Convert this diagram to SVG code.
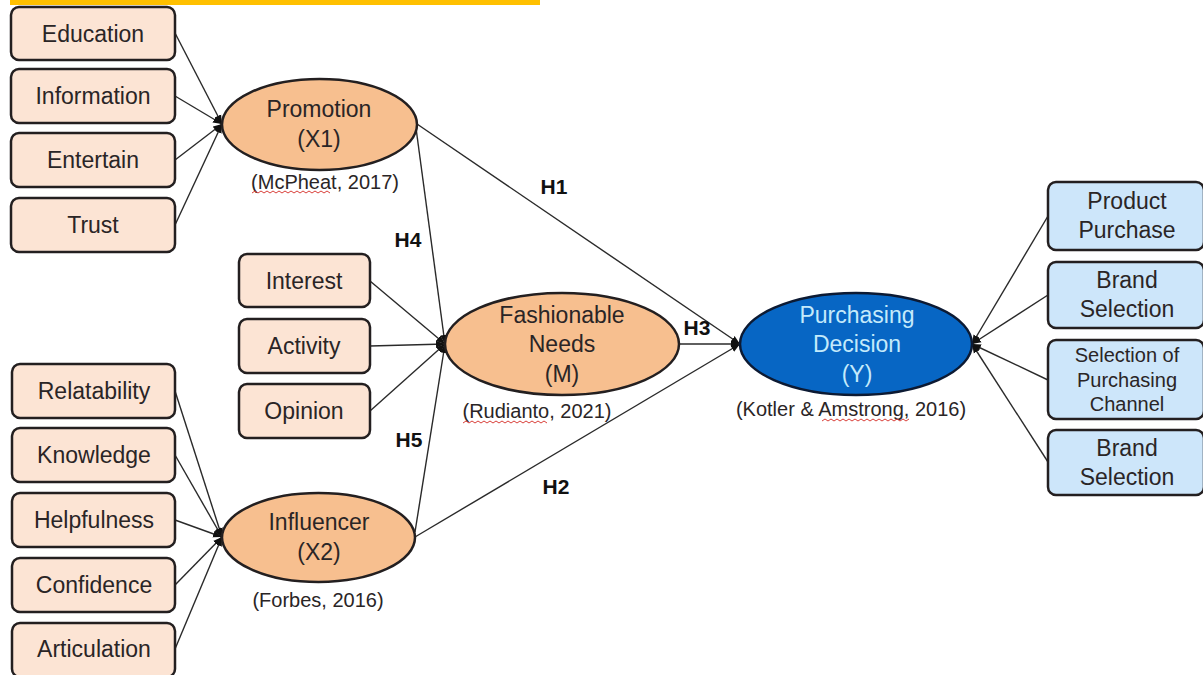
<svg xmlns="http://www.w3.org/2000/svg" width="1203" height="675" viewBox="0 0 1203 675">
<defs>
<marker id="ah" viewBox="0 0 10 10" refX="10" refY="5" markerWidth="9" markerHeight="9" markerUnits="userSpaceOnUse" orient="auto">
<path d="M0,1 L10,5 L0,9 Z" fill="#111"/>
</marker>
<style>
.box{fill:#FCE4D4;stroke:#231f20;stroke-width:2.5}
.bbox{fill:#CDE6FA;stroke:#231f20;stroke-width:2.5}
.ell{fill:#F7BF8F;stroke:#231f20;stroke-width:2.5}
.bell{fill:#0766C4;stroke:#0c1a33;stroke-width:2.5}
.t{font-family:"Liberation Sans",Arial,sans-serif;font-size:23px;fill:#2a2526;text-anchor:middle}
.ts{font-family:"Liberation Sans",Arial,sans-serif;font-size:20px;fill:#2a2526;text-anchor:middle}
.tw{font-family:"Liberation Sans",Arial,sans-serif;font-size:23px;fill:#C4EAFB;text-anchor:middle}
.h{font-family:"Liberation Sans",Arial,sans-serif;font-size:21px;font-weight:bold;fill:#111;text-anchor:middle}
.c{fill:none;stroke:#2a2a2a;stroke-width:1.4;marker-end:url(#ah)}
.sq{fill:none;stroke:#d9403a;stroke-width:1}
</style>
</defs>
<rect x="10" y="0" width="530" height="5" fill="#FFC000"/>
<g id="connectors">
<line class="c" x1="175" y1="33" x2="222" y2="124"/>
<line class="c" x1="175" y1="96" x2="222" y2="124"/>
<line class="c" x1="175" y1="160" x2="222" y2="124"/>
<line class="c" x1="175" y1="225" x2="222" y2="124"/>
<line class="c" x1="370" y1="281" x2="445" y2="344"/>
<line class="c" x1="370" y1="346" x2="445" y2="344"/>
<line class="c" x1="370" y1="411" x2="445" y2="344"/>
<line class="c" x1="175" y1="391" x2="222" y2="537"/>
<line class="c" x1="175" y1="455" x2="222" y2="537"/>
<line class="c" x1="175" y1="520" x2="222" y2="537"/>
<line class="c" x1="175" y1="585" x2="222" y2="537"/>
<line class="c" x1="175" y1="649" x2="222" y2="537"/>
<line class="c" x1="1048" y1="216" x2="972" y2="344"/>
<line class="c" x1="1048" y1="295" x2="972" y2="344"/>
<line class="c" x1="1048" y1="380" x2="972" y2="344"/>
<line class="c" x1="1048" y1="462" x2="972" y2="344"/>
<line class="c" x1="417" y1="124" x2="740" y2="344"/>
<line class="c" x1="416" y1="128" x2="445" y2="344"/>
<line class="c" x1="415" y1="532" x2="445" y2="344"/>
<line class="c" x1="415" y1="537" x2="740" y2="344"/>
<line class="c" x1="679" y1="344" x2="740" y2="344"/>
<text class="h" x="554" y="194">H1</text>
<text class="h" x="408" y="247">H4</text>
<text class="h" x="697" y="335">H3</text>
<text class="h" x="409" y="447">H5</text>
<text class="h" x="556" y="494">H2</text>
</g>
<g id="education"><rect class="box" x="11" y="7" width="164" height="53" rx="8"/><text class="t" x="93" y="42">Education</text></g>
<g id="information"><rect class="box" x="11" y="69" width="164" height="54" rx="8"/><text class="t" x="93" y="104">Information</text></g>
<g id="entertain"><rect class="box" x="11" y="133" width="164" height="54" rx="8"/><text class="t" x="93" y="168">Entertain</text></g>
<g id="trust"><rect class="box" x="11" y="198" width="164" height="54" rx="8"/><text class="t" x="93" y="233">Trust</text></g>
<g id="promotion"><ellipse class="ell" cx="319.5" cy="124.5" rx="97.5" ry="45.5"/><text class="t" x="319" y="117">Promotion</text><text class="t" x="319" y="147">(X1)</text><text class="ts" x="325" y="189">(McPheat, 2017)</text><path class="sq" d="M252,193 l3,-2 l3,2 l3,-2 l3,2 l3,-2 l3,2 l3,-2 l3,2 l3,-2 l3,2 l3,-2 l3,2 l3,-2 l3,2 l3,-2 l3,2 l3,-2 l3,2 l3,-2 l3,2 l3,-2 l3,2 l3,-2 l3,2 l3,-2 l3,2"/></g>
<g id="interest"><rect class="box" x="239" y="254" width="131" height="53" rx="8"/><text class="t" x="304" y="289">Interest</text></g>
<g id="activity"><rect class="box" x="239" y="319" width="131" height="54" rx="8"/><text class="t" x="304" y="354">Activity</text></g>
<g id="opinion"><rect class="box" x="239" y="384" width="131" height="54" rx="8"/><text class="t" x="304" y="419">Opinion</text></g>
<g id="fashionable"><ellipse class="ell" cx="562" cy="344" rx="117" ry="51"/><text class="t" x="562" y="323">Fashionable</text><text class="t" x="562" y="352">Needs</text><text class="t" x="562" y="382">(M)</text><text class="ts" x="537" y="418">(Rudianto, 2021)</text><path class="sq" d="M463,423 l3,-2 l3,2 l3,-2 l3,2 l3,-2 l3,2 l3,-2 l3,2 l3,-2 l3,2 l3,-2 l3,2 l3,-2 l3,2 l3,-2 l3,2 l3,-2 l3,2 l3,-2 l3,2 l3,-2 l3,2 l3,-2 l3,2 l3,-2 l3,2 l3,-2 l3,2"/></g>
<g id="relatability"><rect class="box" x="12" y="364" width="163" height="54" rx="8"/><text class="t" x="94" y="399">Relatability</text></g>
<g id="knowledge"><rect class="box" x="12" y="428" width="163" height="54" rx="8"/><text class="t" x="94" y="463">Knowledge</text></g>
<g id="helpfulness"><rect class="box" x="12" y="493" width="163" height="54" rx="8"/><text class="t" x="94" y="528">Helpfulness</text></g>
<g id="confidence"><rect class="box" x="12" y="558" width="163" height="54" rx="8"/><text class="t" x="94" y="593">Confidence</text></g>
<g id="articulation"><rect class="box" x="12" y="623" width="163" height="54" rx="8"/><text class="t" x="94" y="657">Articulation</text></g>
<g id="influencer"><ellipse class="ell" cx="318.5" cy="537.5" rx="96.5" ry="44.5"/><text class="t" x="319" y="530">Influencer</text><text class="t" x="319" y="560">(X2)</text><text class="ts" x="318" y="607">(Forbes, 2016)</text></g>
<g id="purchasing"><ellipse class="bell" cx="856" cy="344" rx="116" ry="51"/><text class="tw" x="857" y="323">Purchasing</text><text class="tw" x="857" y="352">Decision</text><text class="tw" x="857" y="382">(Y)</text><text class="ts" x="851" y="416">(Kotler &amp; Amstrong, 2016)</text><path class="sq" d="M822,421 l3,-2 l3,2 l3,-2 l3,2 l3,-2 l3,2 l3,-2 l3,2 l3,-2 l3,2 l3,-2 l3,2 l3,-2 l3,2 l3,-2 l3,2 l3,-2 l3,2 l3,-2 l3,2 l3,-2 l3,2 l3,-2 l3,2 l3,-2 l3,2 l3,-2 l3,2 l3,-2"/></g>
<g id="product-purchase"><rect class="bbox" x="1048" y="182" width="156" height="68" rx="8"/><text class="t" x="1127" y="209">Product</text><text class="t" x="1127" y="238">Purchase</text></g>
<g id="brand-selection-1"><rect class="bbox" x="1048" y="262" width="156" height="66" rx="8"/><text class="t" x="1127" y="288">Brand</text><text class="t" x="1127" y="317">Selection</text></g>
<g id="selection-channel"><rect class="bbox" x="1048" y="340" width="156" height="79" rx="8"/><text class="ts" x="1127" y="362">Selection of</text><text class="ts" x="1127" y="387">Purchasing</text><text class="ts" x="1127" y="411">Channel</text></g>
<g id="brand-selection-2"><rect class="bbox" x="1048" y="430" width="156" height="65" rx="8"/><text class="t" x="1127" y="456">Brand</text><text class="t" x="1127" y="485">Selection</text></g>
</svg>
